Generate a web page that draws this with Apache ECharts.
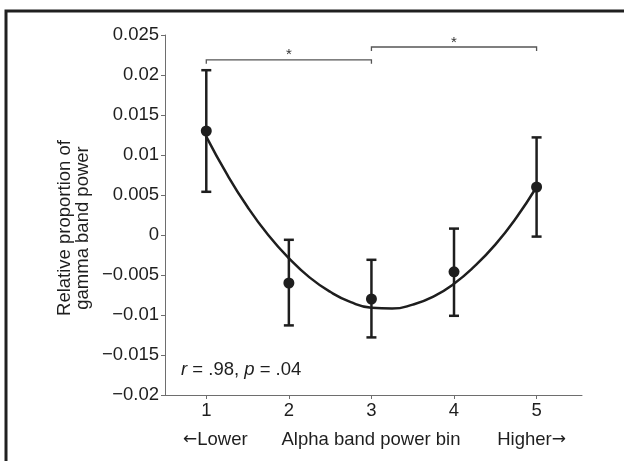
<!DOCTYPE html>
<html>
<head>
<meta charset="utf-8">
<script src="https://cdn.jsdelivr.net/npm/echarts@6/dist/echarts.min.js"></script>
<style>
html, body { margin: 0; padding: 0; background: #fff; overflow: hidden; }
#main { width: 624px; height: 461px; }
</style>
</head>
<body>
<div id="main"></div>
<script>
// bins on the x axis and the mean / error bar ends
var bins = [1, 2, 3, 4, 5];
var means = [0.0130, -0.0060, -0.0080, -0.0046, 0.0060];
var upper = [0.0206, -0.0006, -0.0031, 0.0008, 0.0122];
var lower = [0.0054, -0.0113, -0.0128, -0.0101, -0.0002];

// fitted curve, every quarter bin
var fitX = [1, 1.25, 1.5, 1.75, 2, 2.25, 2.5, 2.75, 3, 3.25, 3.5, 3.75, 4, 4.25, 4.5, 4.75, 5];
var fitY = [0.0123, 0.0076, 0.0035, 0.0000, -0.0029, -0.0053, -0.0071, -0.0084, -0.0091,
            -0.0092, -0.0087, -0.0077, -0.0061, -0.0039, -0.0012, 0.0021, 0.0060];

// significance brackets: from bin, to bin, height
var bracketFrom = [1, 3];
var bracketTo = [3, 5];
var bracketY = [0.0219, 0.0235];

var yMin = -0.02, yMax = 0.025, yStep = 0.005;

var font = '"Liberation Sans", Arial, Helvetica, sans-serif';
var arrowFont = '"DejaVu Sans", sans-serif';
var fs = 18.5;
var ink = '#1e1e1e';
var axisGrey = '#6e6e6e';

var myChart = echarts.init(document.getElementById('main'));

var errData = bins.map(function (b, i) { return [b, upper[i], lower[i]]; });
var meanData = bins.map(function (b, i) { return [b, means[i]]; });
var fitData = fitX.map(function (x, i) { return [x, fitY[i]]; });
var bracketData = bracketFrom.map(function (f, i) { return [f, bracketTo[i], bracketY[i]]; });

function fmtY(v) {
    var s = String(parseFloat(v.toFixed(3)));
    return s.replace('-', '\u2212');
}

var arrowRich = { a: { fontFamily: arrowFont, fontSize: 17, fill: ink } };

myChart.setOption({
    animation: false,
    grid: { left: 165, right: 42, top: 35, bottom: 66 },
    xAxis: {
        type: 'value',
        min: 0.5,
        max: 5.55,
        splitLine: { show: false },
        axisLine: { onZero: false, lineStyle: { color: axisGrey, width: 1 } },
        axisTick: { customValues: bins, length: 4, lineStyle: { color: axisGrey } },
        axisLabel: { customValues: bins, fontFamily: font, fontSize: fs, color: ink, margin: 6 }
    },
    yAxis: {
        type: 'value',
        min: yMin,
        max: yMax,
        interval: yStep,
        splitLine: { show: false },
        axisLine: { show: true, lineStyle: { color: axisGrey, width: 1 } },
        axisTick: { show: true, length: 4, lineStyle: { color: axisGrey } },
        axisLabel: { fontFamily: font, fontSize: fs, color: ink, margin: 6, formatter: fmtY }
    },
    graphic: [
        {
            type: 'polyline', silent: true,
            shape: { points: [[6, 470], [6, 11], [624, 11]] },
            style: { fill: 'none', stroke: '#202020', lineWidth: 3 }
        },
        {
            type: 'text', x: 74, y: 228, rotation: Math.PI / 2,
            style: {
                text: 'Relative proportion of\ngamma band power',
                font: fs + 'px ' + font, fill: ink, lineHeight: 18,
                textAlign: 'center', textVerticalAlign: 'middle'
            }
        },
        {
            type: 'text', x: 181, y: 370,
            style: {
                text: '{i|r} = .98, {i|p} = .04',
                font: fs + 'px ' + font, fill: ink, textVerticalAlign: 'middle',
                rich: { i: { fontStyle: 'italic', fontFamily: font, fontSize: fs, fill: ink } }
            }
        },
        {
            type: 'text', x: 183, y: 440,
            style: { text: '{a|\u2190}Lower', font: fs + 'px ' + font, fill: ink, textVerticalAlign: 'middle', rich: arrowRich }
        },
        {
            type: 'text', x: 371, y: 440,
            style: { text: 'Alpha band power bin', font: fs + 'px ' + font, fill: ink, textAlign: 'center', textVerticalAlign: 'middle' }
        },
        {
            type: 'text', x: 566, y: 440,
            style: { text: 'Higher{a|\u2192}', font: fs + 'px ' + font, fill: ink, textAlign: 'right', textVerticalAlign: 'middle', rich: arrowRich }
        }
    ],
    series: [
        {
            type: 'custom',
            name: 'error',
            data: errData,
            encode: { x: 0, y: [1, 2] },
            z: 2,
            renderItem: function (params, api) {
                var x = api.value(0);
                var hi = api.coord([x, api.value(1)]);
                var lo = api.coord([x, api.value(2)]);
                var w = 5;
                var st = { stroke: ink, lineWidth: 2.5 };
                return {
                    type: 'group',
                    children: [
                        { type: 'line', shape: { x1: hi[0], y1: hi[1], x2: lo[0], y2: lo[1] }, style: st },
                        { type: 'line', shape: { x1: hi[0] - w, y1: hi[1], x2: hi[0] + w, y2: hi[1] }, style: st },
                        { type: 'line', shape: { x1: lo[0] - w, y1: lo[1], x2: lo[0] + w, y2: lo[1] }, style: st }
                    ]
                };
            }
        },
        {
            type: 'line',
            name: 'fit',
            data: fitData,
            smooth: true,
            showSymbol: false,
            z: 3,
            lineStyle: { color: ink, width: 2.5 }
        },
        {
            type: 'scatter',
            name: 'mean',
            data: meanData,
            symbol: 'circle',
            symbolSize: 11,
            z: 4,
            itemStyle: { color: ink, opacity: 1 }
        },
        {
            type: 'custom',
            name: 'brackets',
            data: bracketData,
            encode: { x: [0, 1], y: 2 },
            renderItem: function (params, api) {
                var a = api.coord([api.value(0), api.value(2)]);
                var b = api.coord([api.value(1), api.value(2)]);
                var st = { stroke: '#555', lineWidth: 1.3, fill: 'none' };
                return {
                    type: 'group',
                    children: [
                        {
                            type: 'polyline',
                            shape: { points: [[a[0], a[1] + 4], [a[0], a[1]], [b[0], b[1]], [b[0], b[1] + 4]] },
                            style: st
                        },
                        {
                            type: 'text', x: (a[0] + b[0]) / 2, y: a[1] + 3,
                            style: { text: '*', font: '15px ' + font, fill: '#333', textAlign: 'center', textVerticalAlign: 'bottom' }
                        }
                    ]
                };
            }
        }
    ]
});
</script>
</body>
</html>
